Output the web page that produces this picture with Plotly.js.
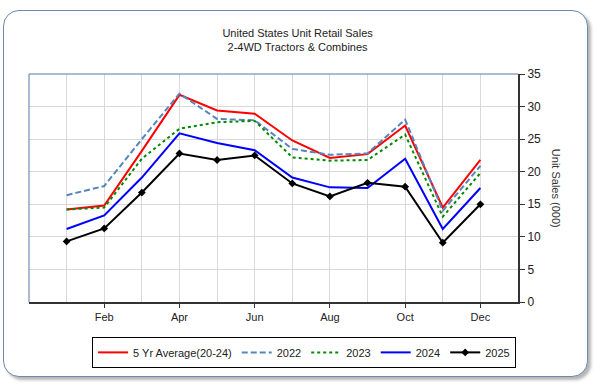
<!DOCTYPE html>
<html>
<head>
<meta charset="utf-8">
<script src="https://cdn.plot.ly/plotly-3.0.1.min.js"></script>
<style>
  html, body { margin: 0; padding: 0; background: #ffffff; }
  #wrap { position: relative; width: 600px; height: 390px; overflow: hidden; }
  #frame { position: absolute; left: 3px; top: 10px; width: 583px; height: 365px;
           border: 1.5px solid #6f88ab; border-radius: 16px;
           box-shadow: 3px 3px 3px rgba(90,90,90,0.45); background: #ffffff; }
  #chart { position: absolute; left: 0; top: 0; width: 600px; height: 390px; }
</style>
</head>
<body>
<div id="wrap">
  <div id="frame"></div>
  <div id="chart"></div>
</div>
<script>
// ---- data ----
const months = [1, 2, 3, 4, 5, 6, 7, 8, 9, 10, 11, 12];
const tickVals = [2, 4, 6, 8, 10, 12];
const tickLabels = ["Feb", "Apr", "Jun", "Aug", "Oct", "Dec"];
const seriesNames = ["5 Yr Average(20-24)", "2022", "2023", "2024", "2025"];
const avg5yr = [14.2, 14.8, 23.2, 31.8, 29.4, 28.9, 24.8, 22.1, 22.7, 27.1, 14.5, 21.8];
const y2022  = [16.4, 17.8, 25.0, 32.0, 28.1, 27.9, 23.5, 22.6, 22.8, 28.0, 14.0, 20.9];
const y2023  = [14.2, 14.5, 22.0, 26.6, 27.6, 27.8, 22.2, 21.7, 21.8, 25.7, 13.1, 19.8];
const y2024  = [11.2, 13.3, 19.1, 25.9, 24.4, 23.3, 19.1, 17.6, 17.5, 22.0, 11.2, 17.5];
const y2025  = [9.3, 11.3, 16.8, 22.8, 21.8, 22.5, 18.2, 16.2, 18.3, 17.7, 9.1, 15.0];

const FONT = "Liberation Sans, Arial, sans-serif";

const traces = [
  {x: months, y: avg5yr, name: seriesNames[0], mode: "lines",
   line: {color: "#ff0000", width: 2}},
  {x: months, y: y2022, name: seriesNames[1], mode: "lines",
   line: {color: "#5585bd", width: 2, dash: "6px,3px"}},
  {x: months, y: y2023, name: seriesNames[2], mode: "lines",
   line: {color: "#008a00", width: 2, dash: "dot"}},
  {x: months, y: y2024, name: seriesNames[3], mode: "lines",
   line: {color: "#0000ff", width: 2}},
  {x: months, y: y2025, name: seriesNames[4], mode: "lines+markers",
   line: {color: "#000000", width: 2},
   marker: {symbol: "diamond", size: 6, color: "#000000"}}
];

const layout = {
  width: 600, height: 390,
  paper_bgcolor: "rgba(0,0,0,0)",
  plot_bgcolor: "#ffffff",
  margin: {l: 29, r: 82, t: 74, b: 88},
  font: {family: FONT, size: 11, color: "#222222"},
  title: {text: "United States Unit Retail Sales<br>2-4WD Tractors & Combines",
          font: {family: FONT, size: 11, color: "#222222"},
          x: 0.496, xanchor: "center", y: 0.906, yanchor: "middle"},
  showlegend: true,
  legend: {orientation: "h", x: 0.129, xanchor: "left", y: -0.153, yanchor: "top",
           bordercolor: "#000000", borderwidth: 1, bgcolor: "#ffffff",
           font: {family: FONT, size: 11, color: "#222222"},
           itemwidth: 30, tracegroupgap: 0},
  xaxis: {
    range: [0, 13], fixedrange: true,
    tickmode: "array", tickvals: tickVals, ticktext: tickLabels,
    ticks: "outside", ticklen: 4, tickcolor: "#333333", tickwidth: 1,
    showgrid: true, gridcolor: "#d9d9d9", gridwidth: 1,
    minor: {dtick: 1, tick0: 0, showgrid: true, gridcolor: "#d9d9d9", gridwidth: 1, ticks: ""},
    showline: true, linecolor: "#333333", linewidth: 2,
    zeroline: false,
    tickfont: {family: FONT, size: 11, color: "#222222"}
  },
  yaxis: {
    side: "right", range: [0, 35], dtick: 5, tick0: 0, fixedrange: true,
    ticks: "outside", ticklen: 5, tickcolor: "#333333",
    showgrid: true, gridcolor: "#d9d9d9", gridwidth: 1,
    showline: true, linecolor: "#333333", linewidth: 2,
    zeroline: false,
    tickfont: {family: FONT, size: 12, color: "#222222"}
  },
  shapes: [
    {type: "path", xref: "paper", yref: "paper", path: "M0,0 L0,1 L1,1",
     line: {color: "#5a76a2", width: 1}, layer: "above"}
  ],
  annotations: [
    {text: "Unit Sales (000)", xref: "paper", yref: "paper", x: 1.078, y: 0.5,
     xanchor: "center", yanchor: "middle", textangle: 90, showarrow: false,
     font: {family: FONT, size: 11, color: "#333333"}}
  ]
};

Plotly.newPlot("chart", traces, layout, {displayModeBar: false, staticPlot: true});
</script>
</body>
</html>
